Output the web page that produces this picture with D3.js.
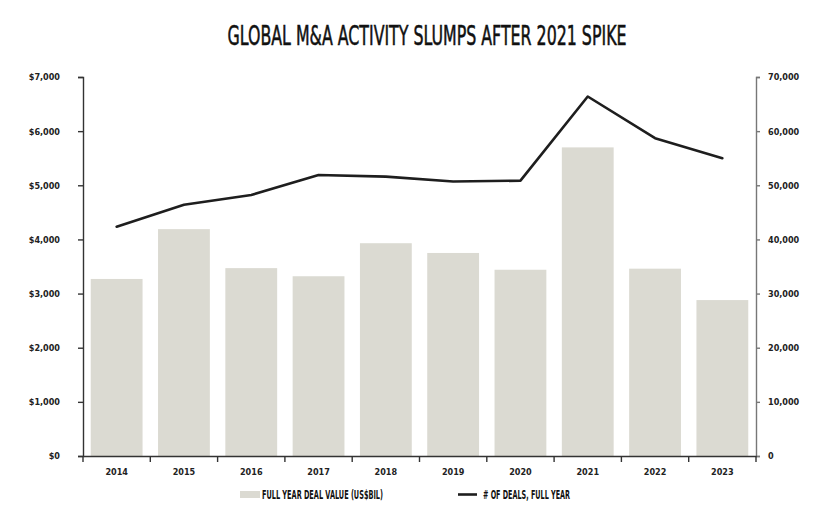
<!DOCTYPE html>
<html lang="en">
<head>
<meta charset="utf-8" />
<title>Global M&amp;A activity</title>
<script src="https://cdn.jsdelivr.net/npm/d3@7"></script>
<style>
    body { margin: 0; background: #fff; }
    text { font-family: "Liberation Sans Narrow", "DejaVu Sans Condensed", sans-serif; }
    .tick text { font-size: 9px; font-weight: bold; fill: #222; font-family: "DejaVu Sans Condensed", sans-serif; }
</style>
</head>
<body>
<script>
// data
var years = ["2014", "2015", "2016", "2017", "2018", "2019", "2020", "2021", "2022", "2023"];
var dealValue = [3270, 4190, 3470, 3320, 3930, 3750, 3440, 5700, 3460, 2880]; // US$ bil
var dealCount = [42350, 46400, 48200, 51900, 51600, 50700, 50850, 66400, 58700, 55000];
var leftTicks = [0, 1000, 2000, 3000, 4000, 5000, 6000, 7000];
var rightTicks = [0, 10000, 20000, 30000, 40000, 50000, 60000, 70000];

var w = 825, h = 511;
var plotLeft = 83, plotRight = 756, plotTop = 77, plotBottom = 456;

var svg = d3.select("body").append("svg")
    .attr("width", w)
    .attr("height", h);

var x = d3.scaleBand()
    .domain(years)
    .range([plotLeft, plotRight])
    .paddingInner(0.23)
    .paddingOuter(0.115);

// band scale with no padding, for ticks at the band edges
var xEdge = d3.scaleBand().domain(years).range([plotLeft, plotRight]);

var yL = d3.scaleLinear().domain([0, 7000]).range([plotBottom, plotTop]);
var yR = d3.scaleLinear().domain([0, 70000]).range([plotBottom, plotTop]);

// title
svg.append("text")
    .attr("x", 427)
    .attr("y", 45)
    .attr("text-anchor", "middle")
    .attr("font-size", "26px")
    .attr("fill", "#111")
    .attr("stroke", "#111")
    .attr("stroke-width", 0.5)
    .attr("textLength", 399)
    .attr("lengthAdjust", "spacingAndGlyphs")
    .text("GLOBAL M&A ACTIVITY SLUMPS AFTER 2021 SPIKE");

// bars
svg.selectAll("rect.bar")
    .data(dealValue)
    .enter()
    .append("rect")
    .attr("class", "bar")
    .attr("x", function(d, i) { return x(years[i]); })
    .attr("y", function(d) { return yL(d); })
    .attr("width", x.bandwidth())
    .attr("height", function(d) { return plotBottom - yL(d); })
    .attr("fill", "#dbdad2");

// line
var line = d3.line()
    .x(function(d, i) { return xEdge(years[i]) + xEdge.bandwidth() / 2; })
    .y(function(d) { return yR(d); });

svg.append("path")
    .datum(dealCount)
    .attr("d", line)
    .attr("fill", "none")
    .attr("stroke", "#1e1e1e")
    .attr("stroke-width", 2.6)
    .attr("stroke-linejoin", "round")
    .attr("stroke-linecap", "round");

// axes
var fmtL = function(d) { return "$" + d3.format(",")(d); };
var gL = svg.append("g")
    .attr("transform", "translate(" + plotLeft + ",0)")
    .call(d3.axisLeft(yL).tickValues(leftTicks).tickFormat(fmtL).tickSize(5).tickPadding(18));
gL.selectAll("path, line").attr("stroke", "#333").attr("stroke-width", 1.4);

var gR = svg.append("g")
    .attr("transform", "translate(" + plotRight + ",0)")
    .call(d3.axisRight(yR).tickValues(rightTicks).tickFormat(d3.format(",")).tickSize(4).tickPadding(8));
gR.selectAll("path, line").attr("stroke", "#777").attr("stroke-width", 1.4);

var gB = svg.append("g")
    .attr("transform", "translate(0," + plotBottom + ")")
    .call(d3.axisBottom(x).tickSize(0).tickPadding(13));
gB.select(".domain").attr("stroke", "#333").attr("stroke-width", 1.4);

// ticks at band edges
var edges = years.map(function(y) { return xEdge(y); }).concat([plotRight]);
gB.selectAll("line.edge")
    .data(edges)
    .enter()
    .append("line")
    .attr("class", "edge")
    .attr("x1", function(d) { return d; })
    .attr("x2", function(d) { return d; })
    .attr("y1", 0)
    .attr("y2", 6)
    .attr("stroke", "#333")
    .attr("stroke-width", 1.4);

svg.selectAll(".domain").attr("fill", "none");

// legend
var legend = svg.append("g").attr("font-size", "11.5px").attr("font-weight", "bold").attr("fill", "#111");
legend.append("rect")
    .attr("x", 240).attr("y", 491)
    .attr("width", 20).attr("height", 7)
    .attr("fill", "#dbdad2");
legend.append("text")
    .attr("x", 262).attr("y", 499)
    .attr("textLength", 121)
    .attr("lengthAdjust", "spacingAndGlyphs")
    .text("FULL YEAR DEAL VALUE (US$BIL)");
legend.append("line")
    .attr("x1", 458).attr("x2", 477)
    .attr("y1", 494.5).attr("y2", 494.5)
    .attr("stroke", "#1e1e1e")
    .attr("stroke-width", 2.6);
legend.append("text")
    .attr("x", 483).attr("y", 499)
    .attr("textLength", 87)
    .attr("lengthAdjust", "spacingAndGlyphs")
    .text("# OF DEALS, FULL YEAR");
</script>
</body>
</html>
